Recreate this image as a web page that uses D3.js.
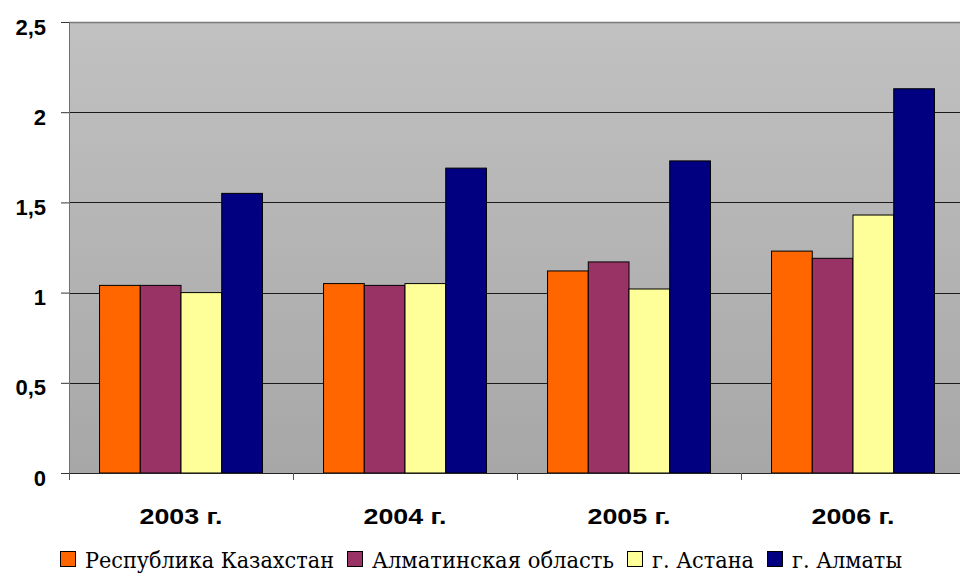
<!DOCTYPE html>
<html>
<head>
<meta charset="utf-8">
<script src="https://cdn.jsdelivr.net/npm/d3@7"></script>
<style>
  html, body { margin: 0; padding: 0; background: #fff; }
  svg { display: block; }
</style>
</head>
<body>
<svg id="chart" width="960" height="574"></svg>
<script>
const categories = ["2003 г.", "2004 г.", "2005 г.", "2006 г."];
const seriesNames = ["Республика Казахстан", "Алматинская область", "г. Астана", "г. Алматы"];
const seriesColors = ["#FF6600", "#993366", "#FFFF99", "#000080"];
const kazakhstan = [1.04, 1.05, 1.12, 1.23];
const almatyRegion = [1.04, 1.04, 1.17, 1.19];
const astana = [1.00, 1.05, 1.02, 1.43];
const almatyCity = [1.55, 1.69, 1.73, 2.13];
const yTicks = [0, 0.5, 1, 1.5, 2, 2.5];
const yTickLabels = ["0", "0,5", "1", "1,5", "2", "2,5"];

const seriesValues = [kazakhstan, almatyRegion, astana, almatyCity];

(function () {
const SANS = "'Liberation Sans', Arial, sans-serif";
const SERIF = "'DejaVu Serif', 'Liberation Serif', 'Times New Roman', serif";
const svg = d3.select("#chart");
const pLeft = 69, pRight = 965, pTop = 22, pBottom = 473;

const y = d3.scaleLinear().domain([0, 2.5]).range([pBottom, pTop]);
const x0 = d3.scaleBand().domain(categories).range([pLeft, pRight]).padding(0);
const band = x0.bandwidth();
const gap = band * 1.5 / 5.5;
const x1 = d3.scaleBand().domain(seriesNames).range([gap / 2, band - gap / 2]).padding(0);

const defs = svg.append("defs");
const grad = defs.append("linearGradient").attr("id", "bg").attr("x1", 0).attr("y1", 0).attr("x2", 0).attr("y2", 1);
grad.append("stop").attr("offset", "0%").attr("stop-color", "#c1c1c1");
grad.append("stop").attr("offset", "100%").attr("stop-color", "#a7a7a7");

svg.append("rect").attr("x", pLeft).attr("y", pTop).attr("width", pRight - pLeft).attr("height", pBottom - pTop)
  .attr("fill", "url(#bg)");

svg.append("g").selectAll("line").data(yTicks.filter(t => t > 0 && t < 2.5)).join("line")
  .attr("x1", pLeft).attr("x2", pRight)
  .attr("y1", d => Math.round(y(d)) + 0.5).attr("y2", d => Math.round(y(d)) + 0.5)
  .attr("stroke", "#1a1a1a").attr("stroke-width", 1);
svg.append("line").attr("x1", pLeft).attr("x2", pRight)
  .attr("y1", Math.round(y(2.5)) + 0.5).attr("y2", Math.round(y(2.5)) + 0.5)
  .attr("stroke", "#7a7a7a").attr("stroke-width", 1.5);

const groups = svg.append("g").selectAll("g").data(categories).join("g")
  .attr("transform", d => `translate(${x0(d)},0)`);
groups.selectAll("rect").data((c, ci) => seriesNames.map((s, si) => ({ s, si, v: seriesValues[si][ci] })))
  .join("rect")
  .attr("x", d => x1(d.s))
  .attr("width", x1.bandwidth())
  .attr("y", d => y(d.v))
  .attr("height", d => y(0) - y(d.v))
  .attr("fill", d => seriesColors[d.si])
  .attr("stroke", "#000")
  .attr("stroke-width", 1);

svg.append("line").attr("x1", pLeft + 0.5).attr("x2", pLeft + 0.5).attr("y1", pTop).attr("y2", pBottom + 7)
  .attr("stroke", "#707070").attr("stroke-width", 1);
const yAxis = d3.axisLeft(y).tickValues(yTicks).tickSize(8).tickFormat((d, i) => yTickLabels[i]);
const ya = svg.append("g").attr("transform", `translate(${pLeft},0)`).call(yAxis)
  .attr("font-size", null).attr("font-family", null);
ya.select(".domain").remove();
ya.selectAll(".tick line").attr("stroke", "#333");
ya.selectAll(".tick text")
  .attr("x", -23).attr("dy", null).attr("y", 12)
  .attr("fill", "#000")
  .attr("text-anchor", "end")
  .style("font-family", SANS).style("font-weight", "bold").style("font-size", "22px");

svg.append("line").attr("x1", pLeft).attr("x2", pRight).attr("y1", pBottom + 0.5).attr("y2", pBottom + 0.5)
  .attr("stroke", "#222").attr("stroke-width", 1.2);
svg.append("g").selectAll("line").data(categories).join("line")
  .attr("x1", d => x0(d) + 0.5).attr("x2", d => x0(d) + 0.5)
  .attr("y1", pBottom).attr("y2", pBottom + 7)
  .attr("stroke", "#555");
svg.append("g").selectAll("text").data(categories).join("text")
  .attr("x", d => x0(d) + band / 2)
  .attr("y", 524)
  .attr("text-anchor", "middle")
  .attr("fill", "#000")
  .style("font-family", SANS).style("font-weight", "bold").style("font-size", "22px")
  .attr("textLength", 83).attr("lengthAdjust", "spacingAndGlyphs")
  .text(d => d);

const legendSquareX = [60, 347, 627, 767];
const legendEnd = 902;
const lg = svg.append("g").selectAll("g").data(seriesNames).join("g")
  .attr("transform", (d, i) => `translate(${legendSquareX[i]},0)`);
lg.append("rect").attr("x", 0.5).attr("y", 551.5).attr("width", 15).attr("height", 15)
  .attr("fill", (d, i) => seriesColors[i]).attr("stroke", "#000").attr("stroke-width", 1);
lg.append("text").attr("x", 25).attr("y", 568)
  .attr("fill", "#000")
  .style("font-family", SERIF).style("font-size", "23px").style("font-weight", "normal")
  .attr("textLength", (d, i) => (i < 3 ? legendSquareX[i + 1] - 13 : legendEnd) - legendSquareX[i] - 25)
  .attr("lengthAdjust", "spacingAndGlyphs")
  .text(d => d);
})();
</script>
</body>
</html>
